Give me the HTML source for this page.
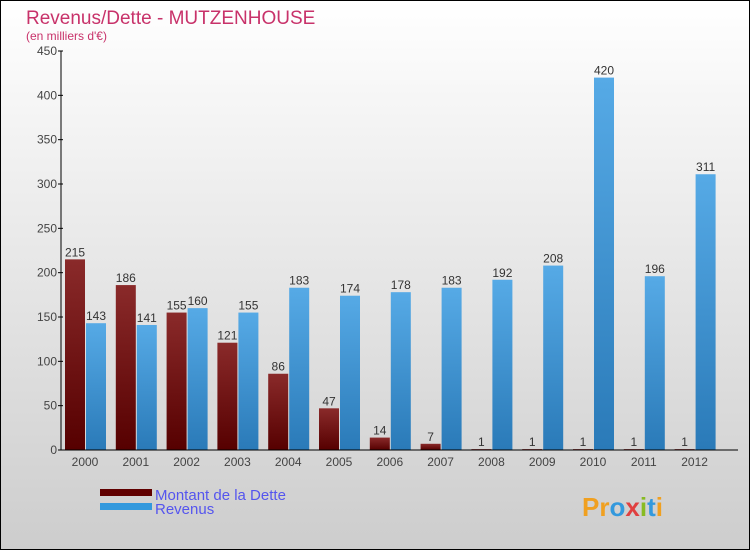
<!DOCTYPE html>
<html><head><meta charset="utf-8"><style>
body{margin:0;}
#c{width:750px;height:550px;position:relative;font-family:"Liberation Sans",sans-serif;}
</style></head><body>
<div id="c">
<svg id="s" width="750" height="550" xmlns="http://www.w3.org/2000/svg">
<defs>
<linearGradient id="bg" x1="0" y1="0" x2="0" y2="1"><stop offset="0" stop-color="#ffffff"/><stop offset="1" stop-color="#cdcdcd"/></linearGradient>
<linearGradient id="gd" x1="0" y1="0" x2="0" y2="1"><stop offset="0" stop-color="#8a2a2a"/><stop offset="1" stop-color="#560000"/></linearGradient>
<linearGradient id="gr" x1="0" y1="0" x2="0" y2="1"><stop offset="0" stop-color="#56aae6"/><stop offset="1" stop-color="#2a7ab8"/></linearGradient>
</defs>
<rect x="0.5" y="0.5" width="749" height="549" fill="url(#bg)" stroke="#000"/>
<text x="26" y="24" font-size="19" fill="#c8326a">Revenus/Dette - MUTZENHOUSE</text>
<text x="26" y="40" font-size="12" fill="#c8326a">(en milliers d'€)</text>
<g id="bars"></g><g id="axes"></g>
<rect x="100" y="489" width="52" height="7" fill="#600000"/>
<rect x="100" y="503" width="52" height="7" fill="#3399dd"/>
<text x="155" y="500" font-size="15" fill="#5555ee">Montant de la Dette</text>
<text x="155" y="514" font-size="15" fill="#5555ee">Revenus</text>
<text x="582" y="516" font-size="26" font-weight="bold"><tspan fill="#f0a020">Pr</tspan><tspan fill="#3399dd">o</tspan><tspan fill="#e04040">x</tspan><tspan fill="#88bb22">i</tspan><tspan fill="#3399dd">t</tspan><tspan fill="#f0a020">i</tspan></text>
</svg>
</div>
<script>
const years=["2000","2001","2002","2003","2004","2005","2006","2007","2008","2009","2010","2011","2012"];
const dette=[215,186,155,121,86,47,14,7,1,1,1,1,1];
const revenus=[143,141,160,155,183,174,178,183,192,208,420,196,311];
const yTicks=[0,50,100,150,200,250,300,350,400,450];
const NS="http://www.w3.org/2000/svg";
const x0=61,y0=450,yTop=51,maxV=450,step=50.8;
const y=v=>y0-(v/maxV)*(y0-yTop);
function mk(t,a,p){const e=document.createElementNS(NS,t);for(const k in a)e.setAttribute(k,a[k]);p.appendChild(e);return e;}
const axes=document.getElementById('axes'),bars=document.getElementById('bars');
yTicks.forEach(v=>{
 const t=mk('line',{x1:x0-3,x2:x0+2,y1:y(v),y2:y(v),stroke:'#000'},axes);
 
 
 const l=mk('text',{x:x0-4,y:y(v)+4,'font-size':12,'text-anchor':'end',fill:'#444'},axes);
 l.textContent=v;
 
 
});
years.forEach((yr,i)=>{
 const cx=x0+24+i*step;
 const d=mk('rect',{x:cx-20,y:y(dette[i]),width:20,height:y0-y(dette[i]),fill:'url(#gd)'},bars);
 
 
 const r=mk('rect',{x:cx+1,y:y(revenus[i]),width:20,height:y0-y(revenus[i]),fill:'url(#gr)'},bars);
 
 
 const ld=mk('text',{x:cx-10,y:y(dette[i])-3,'font-size':12,'text-anchor':'middle',fill:'#333'},bars);
 ld.textContent=dette[i];
 
 
 const lr=mk('text',{x:cx+11,y:y(revenus[i])-3,'font-size':12,'text-anchor':'middle',fill:'#333'},bars);
 lr.textContent=revenus[i];
 
 
 const xl=mk('text',{x:cx,y:466,'font-size':12,'text-anchor':'middle',fill:'#444'},axes);
 xl.textContent=yr;
 
 
});
const ya=mk('line',{x1:x0,x2:x0,y1:yTop,y2:y0,stroke:'#000'},axes);


const xa=mk('line',{x1:x0,x2:738,y1:y0,y2:y0,stroke:'#000'},axes);


</script>
</body></html>
